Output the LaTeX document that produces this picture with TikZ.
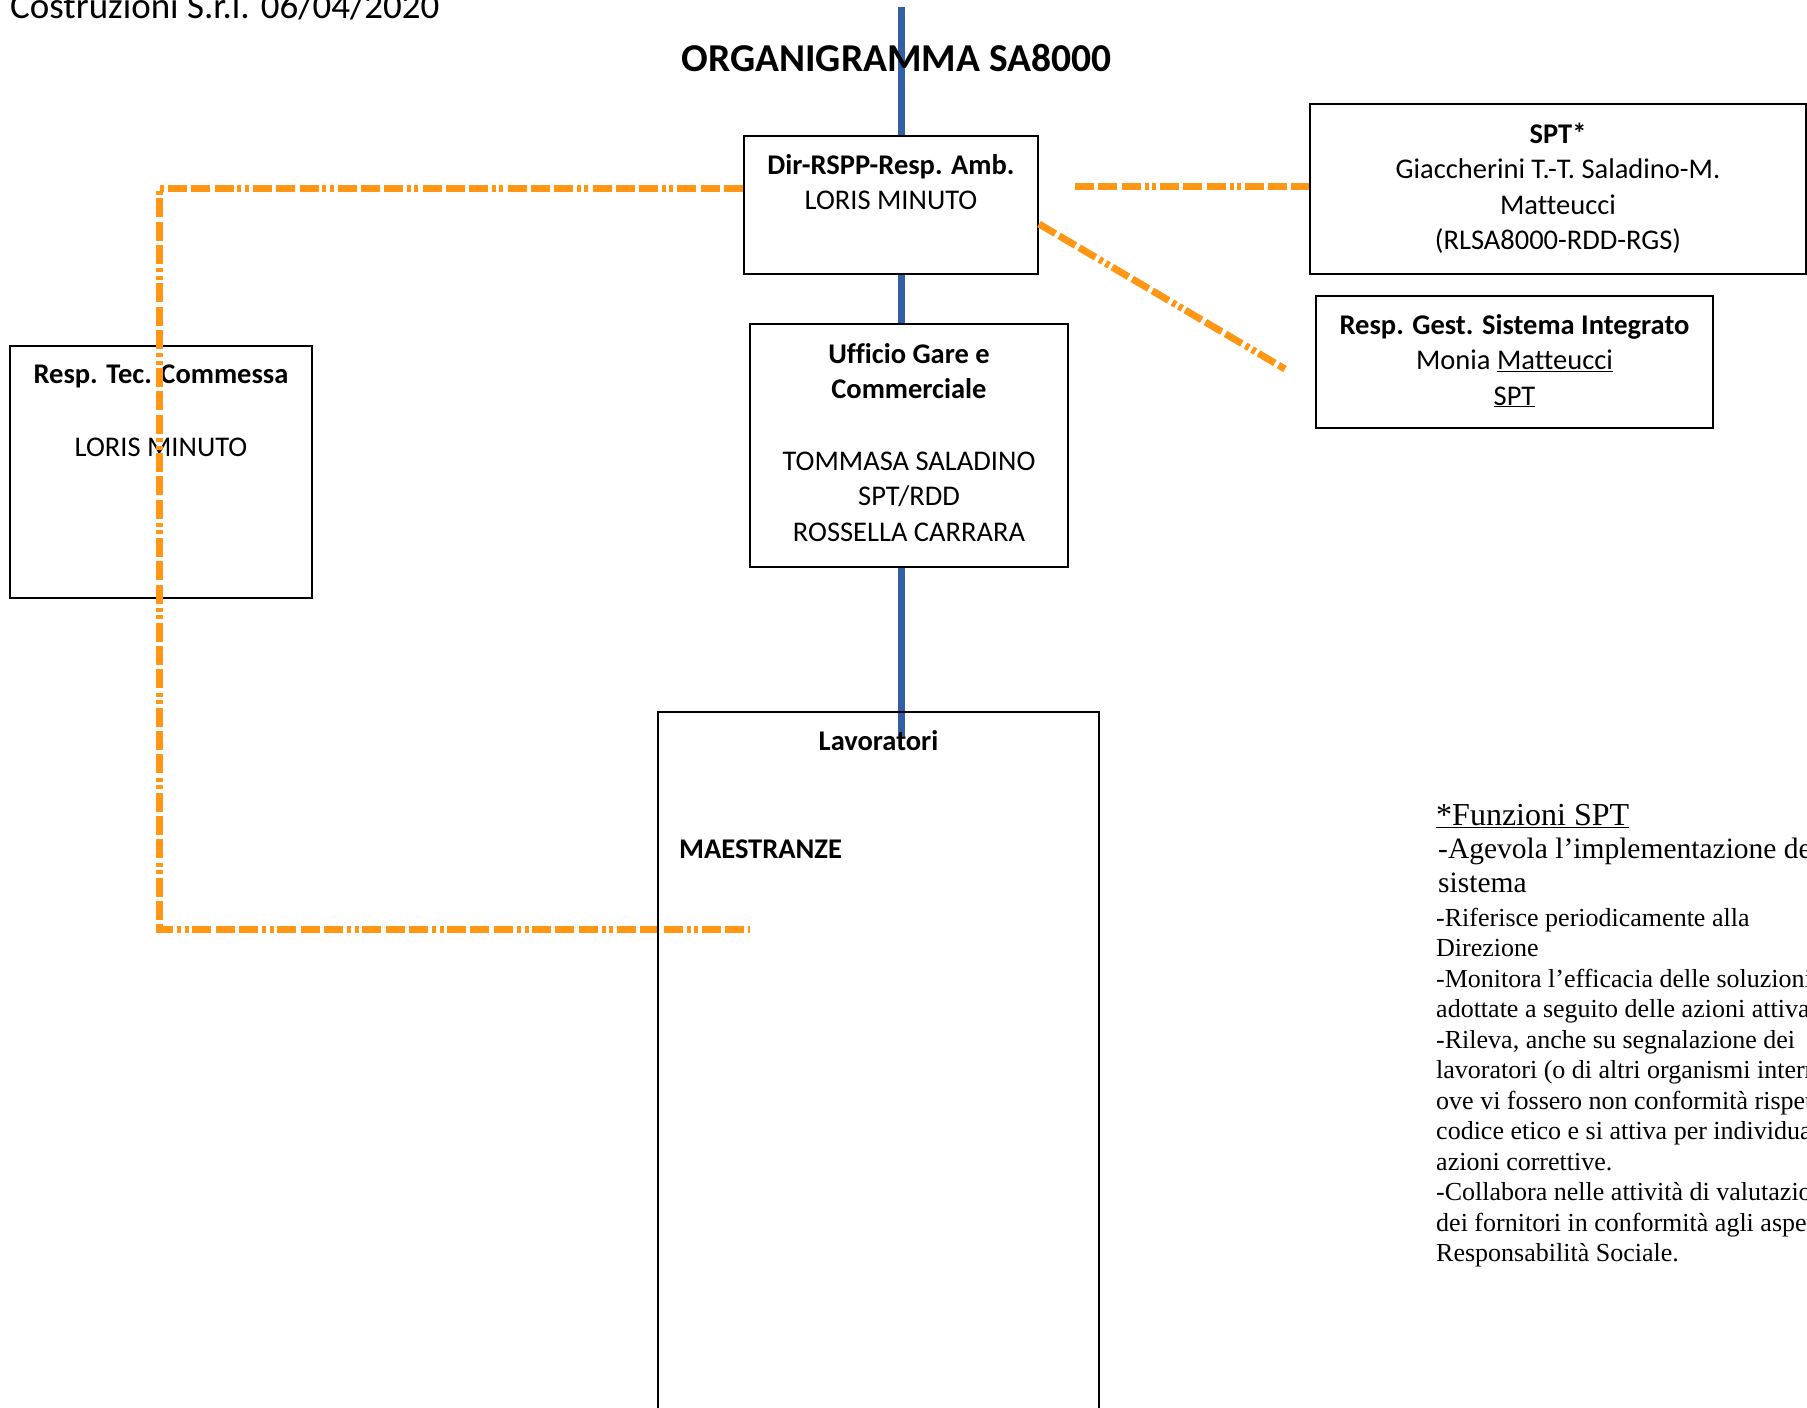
\documentclass[tikz,border=0pt]{standalone}
\usepackage{fontspec}
\setmainfont{Carlito}[Ligatures=NoCommon]
\newfontfamily\notefont{Liberation Serif}
\usetikzlibrary{calc}
\pgfdeclarelayer{back}
\pgfsetlayers{back,main}

\definecolor{orgblue}{RGB}{50,95,165}
\definecolor{orgorange}{RGB}{255,150,20}

\tikzset{
  orgbox/.style={draw,line width=2pt,fill=white,inner sep=0pt},
  boxtext/.style={font=\fontsize{28.5}{35.5}\selectfont,align=center,inner sep=0pt,anchor=base},
  notetext/.style={align=left,inner sep=0pt,anchor=base west},
  bossline/.style={orgblue,line width=7pt},
  staffline/.style={orgorange,line width=7pt,dash pattern=on 19pt off 4.3pt on 19pt off 4.3pt on 19pt off 4.3pt on 4pt off 3.5pt on 4pt off 3.5pt}
}

\begin{document}
\begin{tikzpicture}[x=1pt,y=-1pt]
\useasboundingbox (0,0) rectangle (1807,1408);
\begin{scope}
\clip (0,0) rectangle (1807,1408);

% Header and title (base = last line)
\node[font=\fontsize{37}{44}\selectfont,anchor=base west,inner sep=0pt] (header) at (10,18) {Costruzioni S.r.l. 06/04/2020};
\node[font=\fontsize{39.5}{45}\selectfont\bfseries,anchor=base,inner sep=0pt] (title) at (896.5,71) {ORGANIGRAMMA SA8000};

% Boxes
\node[orgbox,minimum width=294pt,minimum height=138pt] (dir) at (891,205) {};
\node[boxtext] (dirtxt) at (891,209.5) {\textbf{Dir-RSPP-Resp. Amb.}\\LORIS MINUTO};

\node[orgbox,minimum width=318pt,minimum height=243pt] (uff) at (909,445.5) {};
\node[boxtext] (ufftxt) at (909,541) {\textbf{Ufficio Gare e}\\\textbf{Commerciale}\\[36pt]TOMMASA SALADINO\\SPT/RDD\\ROSSELLA CARRARA};

\node[orgbox,minimum width=302pt,minimum height=252pt] (tec) at (161,472) {};
\node[boxtext] (tectxt) at (161,456) {\textbf{Resp. Tec. Commessa}\\[37pt]LORIS MINUTO};

\node[orgbox,minimum width=496pt,minimum height=170pt] (spt) at (1558,189) {};
\node[boxtext] (spttxt) at (1558,249.5) {\textbf{SPT*}\\Giaccherini T.-T. Saladino-M.\\Matteucci\\(RLSA8000-RDD-RGS)};

\node[orgbox,minimum width=397pt,minimum height=132pt] (gest) at (1514.5,362) {};
\node[boxtext] (gesttxt) at (1514.5,405) {\textbf{Resp. Gest. Sistema Integrato}\\Monia \underline{Matteucci}\\\underline{SPT}};

% Staff links
\coordinate (c1) at (159,188);
\coordinate (c2) at (159,929);
\coordinate (c3) at (750,929);
\coordinate (c4) at (1075,186);
\coordinate (c5) at (1285,369);
\draw[staffline] ([yshift=17pt]dir.west) -- (c1) -- (c2) -- (c3);
\draw[staffline] (c4) -- ([yshift=3pt]spt.west);
\draw[staffline] ([yshift=-19pt]dir.east) -- (c5);

% Workers
\node[orgbox,fill=none,minimum width=441pt,minimum height=718pt] (lav) at (878.5,1071) {};
\node[boxtext] (lavtxt) at (878.5,750) {\textbf{Lavoratori}};
\node[boxtext,anchor=base west] (maestr) at (679,858) {\textbf{MAESTRANZE}};

% Line of command
\coordinate (top) at (901,7);
\coordinate (lavtop) at (901,736);
\begin{pgfonlayer}{back}
\draw[bossline] (top) -- (lavtop);
\end{pgfonlayer}

% SPT notes
\node[notetext,font=\notefont\fontsize{32}{38}\selectfont] (notehead) at (1436,825) {\underline{*Funzioni SPT}};
\node[notetext,font=\notefont\fontsize{29.5}{34}\selectfont] (note1) at (1438,892) {-Agevola l’implementazione del\\sistema};
\node[notetext,font=\notefont\fontsize{26}{30.5}\selectfont] (note2) at (1436,1261.5) {-Riferisce periodicamente alla\\Direzione\\-Monitora l’efficacia delle soluzioni\\adottate a seguito delle azioni attivate\\-Rileva, anche su segnalazione dei\\lavoratori (o di altri organismi interni)\\ove vi fossero non conformità rispetto al\\codice etico e si attiva per individuare le\\azioni correttive.\\-Collabora nelle attività di valutazione\\dei fornitori in conformità agli aspetti di\\Responsabilità Sociale.};
\end{scope}
\end{tikzpicture}
\end{document}
